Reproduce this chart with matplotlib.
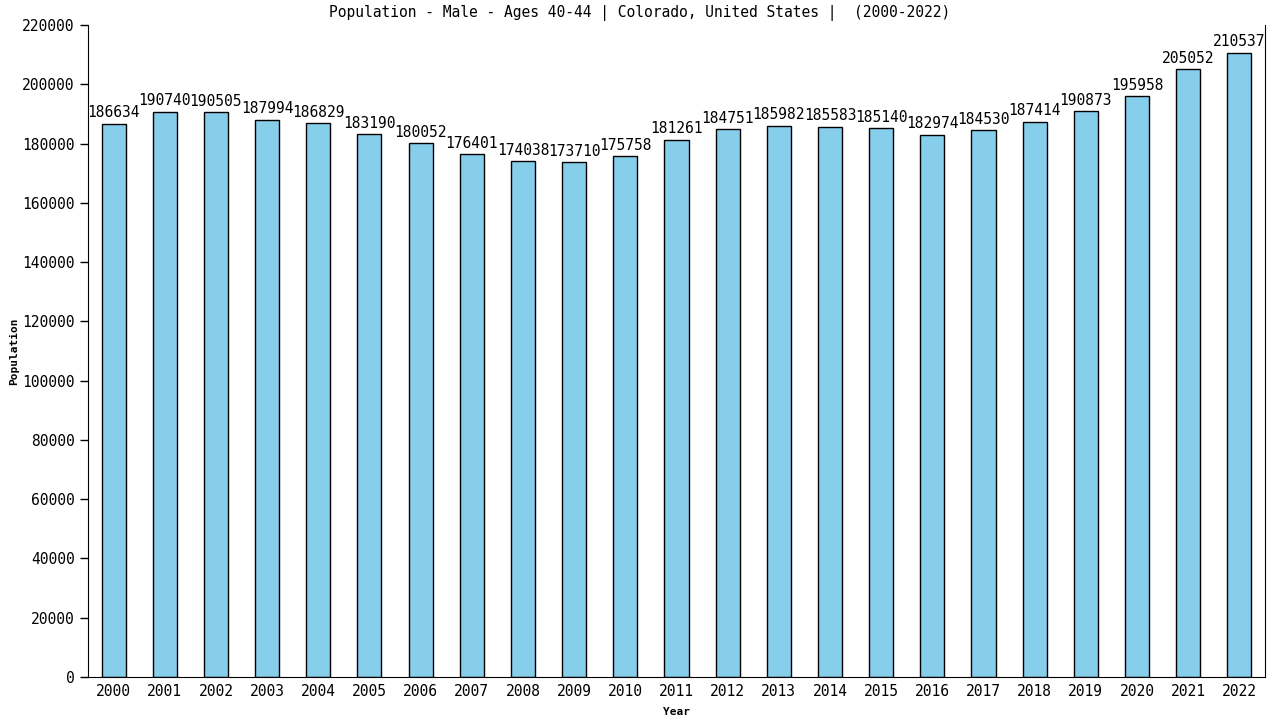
import matplotlib
matplotlib.use("Agg")
import matplotlib.pyplot as plt

years = [str(y) for y in range(2000, 2023)]
population = [186634, 190740, 190505, 187994, 186829, 183190, 180052, 176401, 174038,
              173710, 175758, 181261, 184751, 185982, 185583, 185140, 182974, 184530,
              187414, 190873, 195958, 205052, 210537]
yticks = list(range(0, 220001, 20000))

plt.rcParams['font.family'] = ['DejaVu Sans Mono']

fig = plt.figure(figsize=(12.8, 7.2), dpi=100)
ax = fig.add_axes([0.06875, 0.0597, 0.9195, 0.9056])

x = list(range(len(years)))
ax.bar(x, population, width=0.47, color='#87CEEB', edgecolor='black', linewidth=1)
for xi, v in zip(x, population):
    ax.text(xi, v + 1200, str(v), ha='center', va='bottom', fontsize=10.5)

ax.set_xlim(-0.5, 22.5)
ax.set_ylim(0, 220000)
ax.set_xticks(x)
ax.set_xticklabels(years, fontsize=10.5)
ax.set_yticks(yticks)
ax.set_yticklabels([str(t) for t in yticks], fontsize=10.5)
ax.tick_params(axis='y', length=6, width=1)
ax.tick_params(axis='x', length=0, pad=5)
ax.spines['top'].set_visible(False)

fig.text(0.5, 0.982, 'Population - Male - Ages 40-44 | Colorado, United States |  (2000-2022)',
         fontsize=10.5, ha='center', va='center')
ax.set_xlabel('Year', fontsize=8, fontweight='bold', labelpad=6)
ax.set_ylabel('Population', fontsize=8, fontweight='bold', labelpad=2)

fig.savefig('out.png', dpi=100)
